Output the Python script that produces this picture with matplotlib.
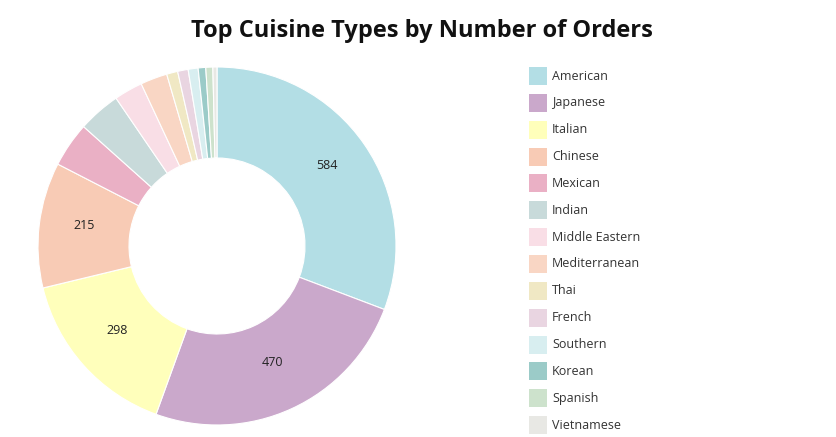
import matplotlib
matplotlib.use("Agg")
import matplotlib.pyplot as plt
from matplotlib.patches import Rectangle

cuisines = ["American", "Japanese", "Italian", "Chinese", "Mexican", "Indian",
            "Middle Eastern", "Mediterranean", "Thai", "French", "Southern",
            "Korean", "Spanish", "Vietnamese"]
orders = [584, 470, 298, 215, 77, 73, 49, 46, 19, 18, 17, 13, 12, 7]
colors = ["#b3dee5", "#caa8cb", "#ffffbb", "#f8cbb5", "#eab0c5", "#c8dada",
          "#f9dee6", "#f9d6c4", "#f0e8c4", "#e9d5e1", "#d8eef0", "#9bcbc8",
          "#cde2cc", "#e8e8e4"]
label_min = 100

W, H = 836, 437
fig = plt.figure(figsize=(W / 100, H / 100), dpi=100)
plt.rcParams['font.family'] = ['Open Sans', 'DejaVu Sans']

cx, cy, r = 217, 246, 179
ax = fig.add_axes([(cx - r) / W, (H - cy - r) / H, 2 * r / W, 2 * r / H])

inner = 88 / 179
labels_txt = [str(v) if v >= label_min else "" for v in orders]
wedges, texts = ax.pie(orders, colors=colors, startangle=90, counterclock=False,
                       radius=1, labels=labels_txt, labeldistance=(1 + inner) / 2,
                       wedgeprops=dict(width=1 - inner, edgecolor='white', linewidth=0.8),
                       textprops=dict(fontsize=9, color='#222222', ha='center', va='center'))
for t in texts:
    x, y = t.get_position()
    t.set_position((x, y + 4.5 / r))
ax.set_xlim(-1, 1)
ax.set_ylim(-1, 1)
ax.set_aspect('equal')
ax.axis('off')

fig.text(0.5 * (190 + 654) / W, 1 - 31 / H, "Top Cuisine Types by Number of Orders",
         ha='center', va='center', fontsize=17, fontweight='bold', color='#111111')

# legend
x0, y0, dy, s = 529, 76, 26.85, 18
for i, (name, c) in enumerate(zip(cuisines, colors)):
    yc = y0 + i * dy
    fig.patches.append(Rectangle((x0 / W, (H - yc - s / 2) / H), s / W, s / H,
                                 transform=fig.transFigure, facecolor=c,
                                 edgecolor='none'))
    fig.text((x0 + s + 5) / W, (H - yc) / H, name, ha='left', va='center',
             fontsize=9, color='#333333')

fig.savefig("out.png", dpi=100)
